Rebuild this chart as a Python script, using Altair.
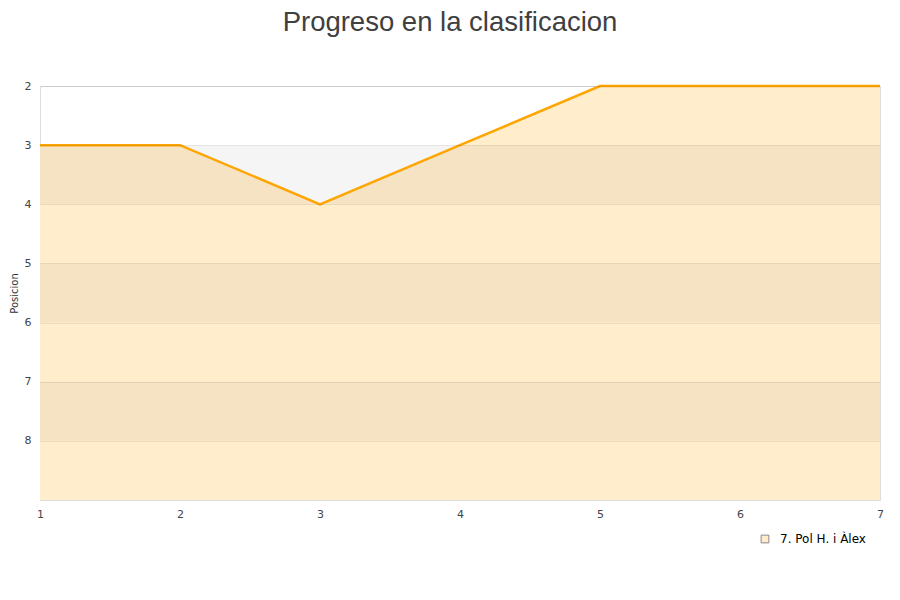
import altair as alt
import pandas as pd

jornadas = [1, 2, 3, 4, 5, 6, 7]
posiciones = [3, 3, 4, 3, 2, 2, 2]
equipo = "7. Pol H. i Àlex"
band_start = [3, 5, 7]
band_end = [4, 6, 8]
y_ticks = [2, 3, 4, 5, 6, 7, 8]

df = pd.DataFrame({"jornada": jornadas, "pos": posiciones, "equipo": [equipo] * len(jornadas)})
bands = pd.DataFrame({"y0": band_start, "y1": band_end})

xscale = alt.Scale(domain=[1, 7], nice=False, zero=False)
yscale = alt.Scale(domain=[2, 9], reverse=True, nice=False, zero=False)

area = alt.Chart(df).mark_area(opacity=1, line=False).encode(
    x=alt.X("jornada:Q", scale=xscale,
            axis=alt.Axis(values=jornadas, title=None, grid=False, ticks=False, domain=False,
                          labelFontSize=11, labelColor="#444", labelPadding=8, format="d",
                          labelFlush=False, labelFont="DejaVu Sans")),
    y=alt.Y("pos:Q", scale=yscale,
            axis=alt.Axis(values=y_ticks, title="Posicion", titleFontSize=10, titleFontWeight="normal",
                          titleColor="#333", titleFont="DejaVu Sans", titlePadding=5,
                          grid=True, gridColor="#000", gridOpacity=0.08, ticks=False, domain=False,
                          labelFontSize=11, labelColor="#444", labelPadding=9, format="d",
                          labelFont="DejaVu Sans", zindex=1)),
    y2=alt.Y2(datum=9),
    color=alt.Color("equipo:N", scale=alt.Scale(range=["#FFEDCC"]),
                    legend=alt.Legend(title=None, orient="none", legendX=719, legendY=447,
                                      symbolType="square", symbolSize=60, symbolStrokeColor="#888",
                                      symbolStrokeWidth=1, labelFontSize=12, labelColor="#000",
                                      labelOffset=9, labelFont="DejaVu Sans")),
)

band_layer = alt.Chart(bands).mark_rect(color="#000", opacity=0.04).encode(
    x=alt.datum(1, scale=xscale),
    x2=alt.datum(7),
    y=alt.Y("y0:Q", scale=yscale),
    y2="y1:Q",
)

line = alt.Chart(df).mark_line(color="#FFA500", strokeWidth=2.5).encode(
    x=alt.X("jornada:Q", scale=xscale),
    y=alt.Y("pos:Q", scale=yscale),
)

chart = alt.layer(area, band_layer, line).properties(
    width=840, height=414,
    title=alt.TitleParams("Progreso en la clasificacion", fontSize=27.5, font="Liberation Sans",
                          fontWeight="normal", color="#404040", anchor="middle", dx=-10, offset=44),
    autosize=alt.AutoSizeParams(type="none"),
    padding={"left": 32, "top": 78, "right": 12, "bottom": 70},
).configure_view(stroke="#ddd")

chart.save("out.html", embed_options={"renderer": "svg", "actions": False})
